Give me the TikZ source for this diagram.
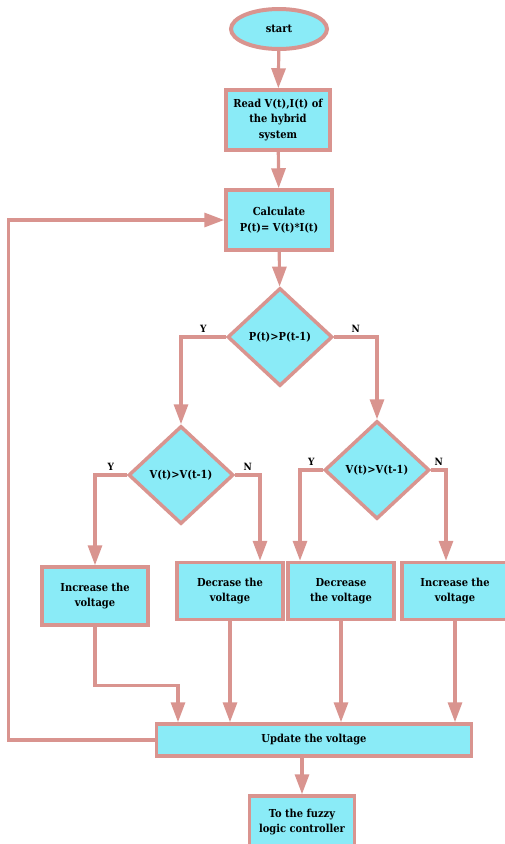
\documentclass[tikz,border=0pt]{standalone}
\usepackage{fontspec}
\setmainfont{DejaVu Serif Condensed}
\usetikzlibrary{shapes.geometric, arrows.meta, positioning}
\definecolor{boxcyan}{RGB}{138, 235, 247}
\definecolor{linepink}{RGB}{217, 148, 143}

\begin{document}
\begin{tikzpicture}[x=1pt, y=-1pt,
  every node/.style={font=\fontsize{11}{15.5}\selectfont\bfseries},
  procbox/.style={draw=linepink, fill=boxcyan, line width=3.5pt, align=center, inner sep=2pt},
  decision/.style={diamond, draw=linepink, fill=boxcyan, line width=3.5pt, minimum width=105pt, minimum height=98pt, inner sep=0pt},
  flow/.style={draw=linepink, line width=3.2pt, -{Triangle[width=14pt,length=20pt]}},
  yn/.style={font=\fontsize{10}{11}\selectfont\bfseries}]
  \useasboundingbox (0,0) rectangle (505,844);

  % top of the chart
  \node[ellipse, draw=linepink, fill=boxcyan, line width=4pt, minimum width=96pt, minimum height=40pt] (start) at (279,29) {start};
  \node[procbox, minimum width=104pt, minimum height=60pt] (read) at (278,120) {Read V(t),I(t) of\\the hybrid\\system};
  \node[procbox, minimum width=106pt, minimum height=60pt] (calc) at (279,220) {Calculate\\P(t)= V(t)*I(t)};

  % decisions
  \node[decision] (pcmp) at (280,337) {P(t)>P(t-1)};
  \node[decision] (vleft) at (181,475) {V(t)>V(t-1)};
  \node[decision] (vright) at (377,470) {V(t)>V(t-1)};

  % actions
  \node[procbox, minimum width=106pt, minimum height=58pt] (incl) at (95,596) {Increase the\\voltage};
  \node[procbox, minimum width=106pt, minimum height=57pt] (decl) at (230,591) {Decrase the\\voltage};
  \node[procbox, minimum width=106pt, minimum height=57pt] (decr) at (341,591) {Decrease\\the voltage};
  \node[procbox, minimum width=106pt, minimum height=57pt] (incr) at (455,591) {Increase the\\voltage};

  \node[procbox, minimum width=315pt, minimum height=32pt] (update) at (314,740) {Update the voltage};
  \node[procbox, minimum width=105pt, minimum height=52pt] (fuzzy) at (302,822) {To the fuzzy\\logic controller};

  % connectors
  \draw[flow] (start) -- (read);
  \draw[flow] (read) -- (calc);
  \draw[flow] (calc) -- (pcmp);
  \draw[flow] (pcmp.west) -| node[yn, pos=0.25, above] {Y} (vleft.north);
  \draw[flow] (pcmp.east) -| node[yn, pos=0.25, above] {N} (vright.north);
  \draw[flow] (vleft.west) -| node[yn, pos=0.25, above] {Y} (incl.north);
  \draw[flow] (vleft.east) -| node[yn, pos=0.25, above] {N} ([xshift=30pt]decl.north);
  \draw[flow] (vright.west) -| node[yn, pos=0.25, above] {Y} ([xshift=-41pt]decr.north);
  \draw[flow] (vright.east) -| node[yn, pos=0.25, above] {N} ([xshift=-9pt]incr.north);

  \draw[flow] (incl.south) -- ++(0,59) -| ([xshift=-136pt]update.north);
  \draw[flow] (decl.south) -- (decl.south |- update.north);
  \draw[flow] (decr.south) -- (decr.south |- update.north);
  \draw[flow] (incr.south) -- (incr.south |- update.north);

  \draw[flow] (update.west) -- ++(-146,0) |- (calc.west);
  \draw[flow] (fuzzy.north |- update.south) -- (fuzzy.north);
\end{tikzpicture}
\end{document}
